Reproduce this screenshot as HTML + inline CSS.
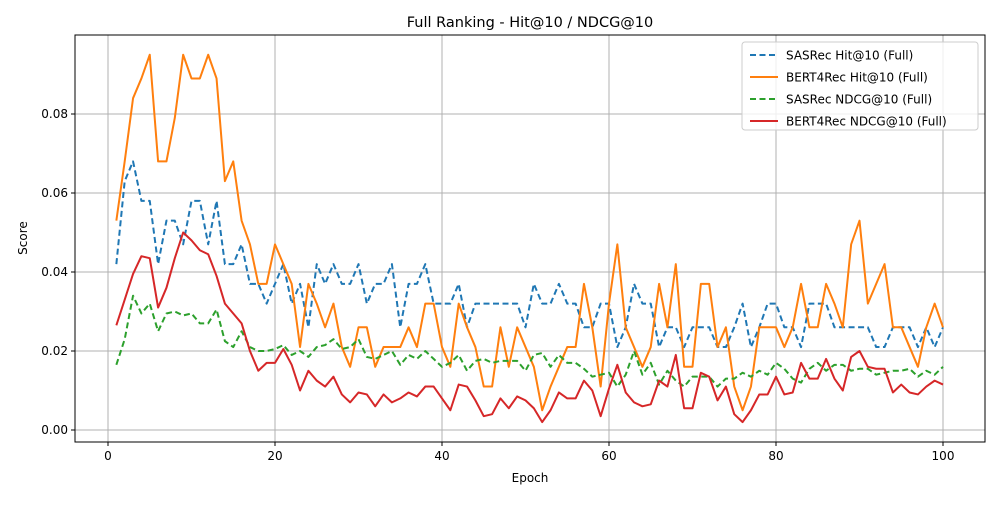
<!DOCTYPE html>
<html><head><meta charset="utf-8"><style>
body{margin:0;background:#fff;font-family:"Liberation Sans","DejaVu Sans",sans-serif}
svg text{font-family:"DejaVu Sans","Liberation Sans",sans-serif}
</style></head><body>
<svg id="c" width="1000" height="500" xmlns="http://www.w3.org/2000/svg"></svg>
<script>
const epochs = Array.from({length:100},(_,i)=>i+1);
const sasHit = [0.042,0.063,0.068,0.058,0.058,0.042,0.053,0.053,0.047,0.058,0.058,0.047,0.058,0.042,0.042,0.047,0.037,0.037,0.032,0.037,0.042,0.032,0.037,0.026,0.042,0.037,0.042,0.037,0.037,0.042,0.032,0.037,0.037,0.042,0.026,0.037,0.037,0.042,0.032,0.032,0.032,0.037,0.026,0.032,0.032,0.032,0.032,0.032,0.032,0.026,0.037,0.032,0.032,0.037,0.032,0.032,0.026,0.026,0.032,0.032,0.021,0.026,0.037,0.032,0.032,0.021,0.026,0.026,0.021,0.026,0.026,0.026,0.021,0.021,0.026,0.032,0.021,0.026,0.032,0.032,0.026,0.026,0.021,0.032,0.032,0.032,0.026,0.026,0.026,0.026,0.026,0.021,0.021,0.026,0.026,0.026,0.021,0.026,0.021,0.026];
const bertHit = [0.053,0.068,0.084,0.089,0.095,0.068,0.068,0.079,0.095,0.089,0.089,0.095,0.089,0.063,0.068,0.053,0.047,0.037,0.037,0.047,0.042,0.037,0.021,0.037,0.032,0.026,0.032,0.021,0.016,0.026,0.026,0.016,0.021,0.021,0.021,0.026,0.021,0.032,0.032,0.021,0.016,0.032,0.026,0.021,0.011,0.011,0.026,0.016,0.026,0.021,0.016,0.005,0.011,0.016,0.021,0.021,0.037,0.026,0.011,0.032,0.047,0.026,0.021,0.016,0.021,0.037,0.026,0.042,0.016,0.016,0.037,0.037,0.021,0.026,0.011,0.005,0.011,0.026,0.026,0.026,0.021,0.026,0.037,0.026,0.026,0.037,0.032,0.026,0.047,0.053,0.032,0.037,0.042,0.026,0.026,0.021,0.016,0.026,0.032,0.026];
const sasNdcg = [0.0165,0.023,0.034,0.0295,0.032,0.025,0.0295,0.030,0.029,0.0295,0.027,0.027,0.0305,0.0225,0.021,0.025,0.021,0.020,0.020,0.0205,0.0215,0.019,0.020,0.0185,0.021,0.0215,0.023,0.0205,0.021,0.023,0.0185,0.018,0.019,0.020,0.0165,0.019,0.018,0.020,0.018,0.016,0.017,0.019,0.015,0.0175,0.018,0.017,0.0175,0.0175,0.0175,0.015,0.019,0.0195,0.016,0.019,0.017,0.017,0.0155,0.0135,0.014,0.0145,0.011,0.014,0.020,0.014,0.017,0.0115,0.015,0.0125,0.011,0.0135,0.0135,0.0135,0.011,0.013,0.013,0.0145,0.0135,0.015,0.014,0.017,0.0155,0.013,0.012,0.0155,0.017,0.015,0.0165,0.0165,0.015,0.0155,0.0155,0.014,0.0145,0.015,0.015,0.0155,0.0135,0.015,0.014,0.016];
const bertNdcg = [0.0265,0.033,0.0395,0.044,0.0435,0.031,0.036,0.0435,0.050,0.048,0.0455,0.0445,0.039,0.032,0.0295,0.027,0.020,0.015,0.017,0.017,0.0205,0.0165,0.010,0.015,0.0125,0.011,0.0135,0.009,0.007,0.0095,0.009,0.006,0.009,0.007,0.008,0.0095,0.0085,0.011,0.011,0.008,0.005,0.0115,0.011,0.0075,0.0035,0.004,0.008,0.0055,0.0085,0.0075,0.0055,0.002,0.005,0.0095,0.008,0.008,0.0125,0.010,0.0035,0.0105,0.0165,0.0095,0.007,0.006,0.0065,0.0125,0.011,0.019,0.0055,0.0055,0.0145,0.0135,0.0075,0.011,0.004,0.002,0.005,0.009,0.009,0.0135,0.009,0.0095,0.017,0.013,0.013,0.018,0.013,0.010,0.0185,0.020,0.016,0.0155,0.0155,0.0095,0.0115,0.0095,0.009,0.011,0.0125,0.0115];
const xTicks = [0,20,40,60,80,100];
const yTicks = [0,0.02,0.04,0.06,0.08];
const yTickLabels = ["0.00","0.02","0.04","0.06","0.08"];
const seriesNames = ["SASRec Hit@10 (Full)","BERT4Rec Hit@10 (Full)","SASRec NDCG@10 (Full)","BERT4Rec NDCG@10 (Full)"];

const L=75,R=985,T=35,B=442;
const X=v=>108+(v)*8.35;
const Y=v=>430-v*3950;
const svg=document.getElementById('c');
const NS='http://www.w3.org/2000/svg';
function mk(tag,attrs,parent){const e=document.createElementNS(NS,tag);for(const k in attrs)e.setAttribute(k,attrs[k]);(parent||svg).appendChild(e);return e;}
// grid
xTicks.forEach(t=>{const g=mk('line',{x1:X(t),x2:X(t),y1:T,y2:B,stroke:'#b0b0b0','stroke-width':1});


mk('line',{x1:X(t),x2:X(t),y1:B,y2:B+4,stroke:'#000'});
const tx=mk('text',{x:X(t),y:B+18,'text-anchor':'middle','font-size':12});tx.textContent=t;

});
yTicks.forEach((t,i)=>{const g=mk('line',{x1:L,x2:R,y1:Y(t),y2:Y(t),stroke:'#b0b0b0','stroke-width':1});


mk('line',{x1:L-4,x2:L,y1:Y(t),y2:Y(t),stroke:'#000'});
const tx=mk('text',{x:L-7,y:Y(t)+4,'text-anchor':'end','font-size':12});tx.textContent=yTickLabels[i];

});
const colors=['#1f77b4','#ff7f0e','#2ca02c','#d62728'];
const dashes=['6,3.5','','6,3.5',''];
const data=[sasHit,bertHit,sasNdcg,bertNdcg];
data.forEach((s,i)=>{const p=mk('polyline',{points:s.map((v,j)=>X(epochs[j])+','+Y(v)).join(' '),fill:'none',stroke:colors[i],'stroke-width':2,'stroke-dasharray':dashes[i],'stroke-linejoin':'round'});

});
const fr=mk('rect',{x:L,y:T,width:R-L,height:B-T,fill:'none',stroke:'#000','stroke-width':1});


const ti=mk('text',{x:530,y:27,'text-anchor':'middle','font-size':14.5});ti.textContent='Full Ranking - Hit@10 / NDCG@10';


const xl=mk('text',{x:530,y:482,'text-anchor':'middle','font-size':12});xl.textContent='Epoch';


const yl=mk('text',{x:27,y:238,'text-anchor':'middle','font-size':12,transform:'rotate(-90 27 238)'});yl.textContent='Score';


const lg=mk('rect',{x:742,y:42,width:236,height:88,rx:3,fill:'#fff','fill-opacity':0.8,stroke:'#ccc'});


seriesNames.forEach((n,i)=>{const y=55+i*22;
const l=mk('line',{x1:750,x2:778,y1:y,y2:y,stroke:colors[i],'stroke-width':2,'stroke-dasharray':dashes[i]});


const t=mk('text',{x:786,y:y+4.5,'font-size':12});t.textContent=n;

});
</script>
</body></html>
